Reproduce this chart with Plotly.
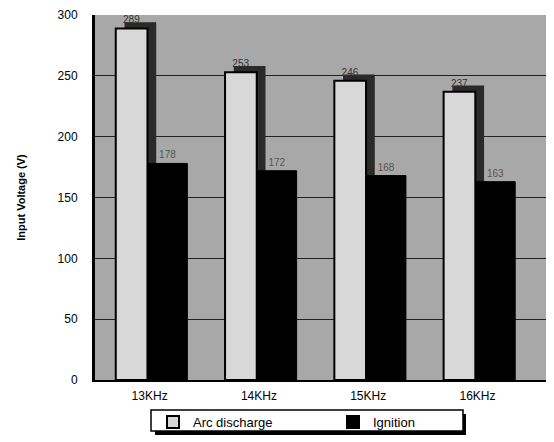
import plotly.graph_objects as go

categories = ["13KHz", "14KHz", "15KHz", "16KHz"]
arc_discharge = [289, 253, 246, 237]
ignition = [178, 172, 168, 163]
y_ticks = [0, 50, 100, 150, 200, 250, 300]

# page body has an 8px default margin: lay out in figure coords = screen - 8
OFF = 8
W, H = 554 - OFF, 442 - OFF
L, T, B = 95 - OFF, 15 - OFF, H - (380 - OFF)
PW, PH = W - L, H - T - B

def px_x(sx):
    return (sx - OFF - L) / PW

def px_y(sy):
    return ((380 - OFF) - (sy - OFF)) / PH

xpos = list(range(len(categories)))
ARC_OFF, IGN_OFF = -0.165, 0.165
SIDE_SHIFT, DEPTH = 0.08, 5

fig = go.Figure()
# 3D side face of arc bars (dark)
fig.add_trace(go.Bar(
    x=[i + ARC_OFF + SIDE_SHIFT for i in xpos], y=[v + DEPTH for v in arc_discharge], width=0.29,
    marker=dict(color="#2a2a2a", line=dict(width=0)), showlegend=False, hoverinfo="skip"))
fig.add_trace(go.Bar(
    x=[i + ARC_OFF for i in xpos], y=arc_discharge, width=0.29, name="Arc discharge",
    marker=dict(color="#d8d8d8", line=dict(color="black", width=2)),
    text=[str(v) for v in arc_discharge], textposition="outside", cliponaxis=False,
    textfont=dict(family="Arial", size=10, color="#333333")))
fig.add_trace(go.Bar(
    x=[i + IGN_OFF for i in xpos], y=ignition, width=0.36, name="Ignition",
    marker=dict(color="black", line=dict(color="black", width=1)),
    text=[str(v) for v in ignition], textposition="outside", cliponaxis=False,
    textfont=dict(family="Arial", size=10, color="#555555")))

shapes = [
    dict(type="rect", xref="paper", yref="paper", x0=px_x(155), x1=px_x(466),
         y0=px_y(435), y1=px_y(414), fillcolor="black", line=dict(width=0), layer="above"),
    dict(type="rect", xref="paper", yref="paper", x0=px_x(151), x1=px_x(463),
         y0=px_y(431), y1=px_y(410), fillcolor="white", line=dict(color="black", width=1.5), layer="above"),
]

fig.update_layout(
    width=W, height=H,
    margin=dict(l=L, r=0, t=T, b=B, autoexpand=False),
    paper_bgcolor="white", plot_bgcolor="#a8a8a8",
    barmode="overlay",
    font=dict(family="Arial", color="black"),
    shapes=shapes,
    xaxis=dict(tickmode="array", tickvals=xpos, ticktext=categories, range=[-0.5, 3.7],
               showgrid=False, zeroline=False, showline=True, linecolor="black", linewidth=2,
               tickfont=dict(family="Arial", size=12), ticks="", ticklabelstandoff=4),
    yaxis=dict(range=[0, 300], tickmode="array", tickvals=y_ticks, showgrid=True,
               gridcolor="#222222", gridwidth=1, zeroline=False, showline=True,
               linecolor="black", linewidth=3, ticks="", ticklabelstandoff=12,
               tickfont=dict(family="Arial", size=12),
               title=dict(text="<b>Input Voltage (V)</b>", font=dict(family="Arial", size=11), standoff=30)),
    legend=dict(orientation="h", xref="container", yref="container",
                x=(153 - OFF) / W, xanchor="left", y=1 - (407 - OFF) / H, yanchor="top",
                bgcolor="rgba(0,0,0,0)", borderwidth=0, font=dict(family="Arial", size=13),
                entrywidth=135, itemsizing="constant", traceorder="normal"),
)
fig.write_html("out.html")
